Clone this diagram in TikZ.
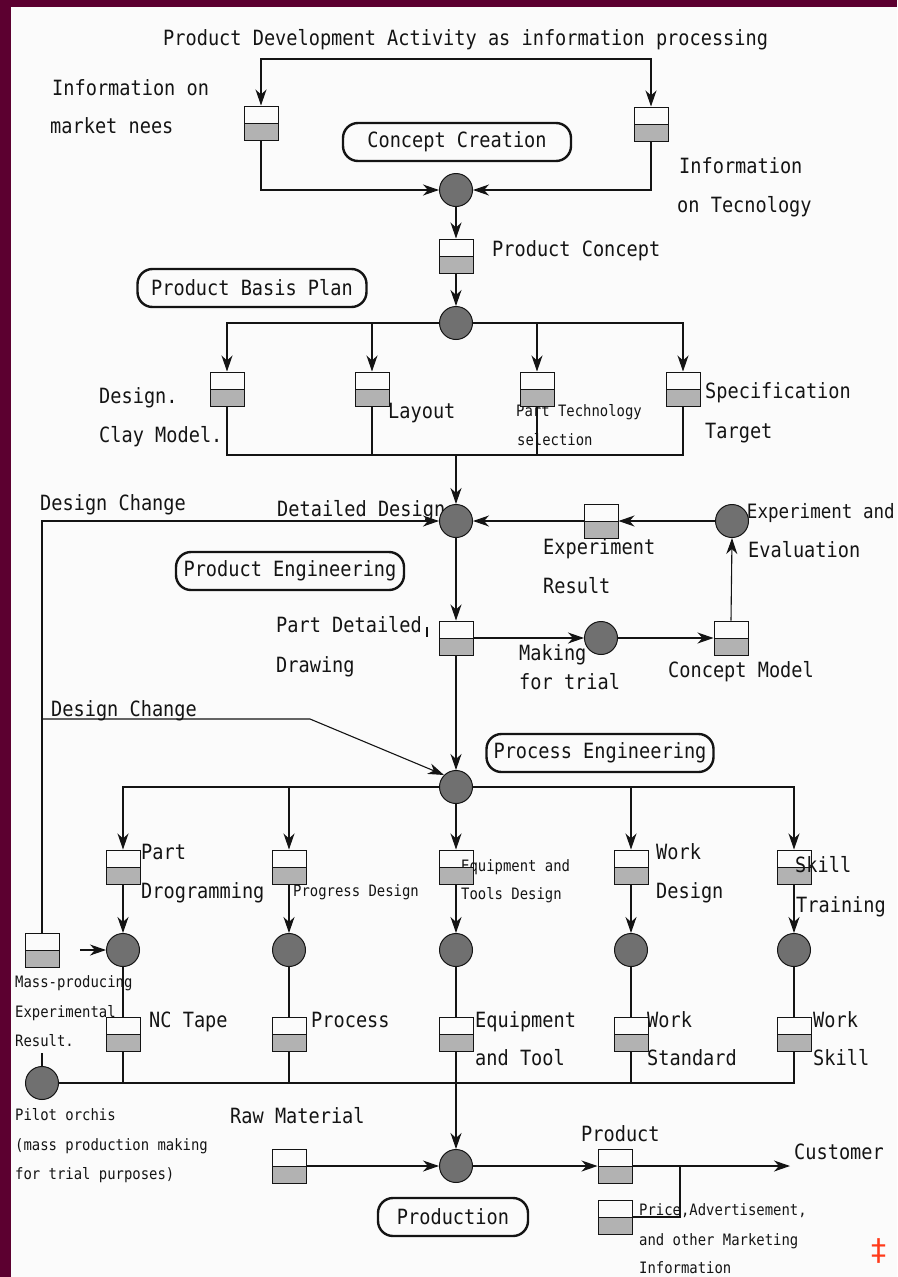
\documentclass[tikz,border=0pt]{standalone}
\usepackage{fontspec}
\setmainfont{DejaVu Sans Mono}[FakeStretch=0.886]
\newfontfamily\markfont{DejaVu Sans}
\usetikzlibrary{arrows.meta}

\definecolor{frame}{HTML}{5C0030}
\definecolor{paper}{HTML}{FBFBFB}
\definecolor{ink}{HTML}{141414}
\definecolor{boxgray}{HTML}{B2B2B2}
\definecolor{procgray}{HTML}{707070}
\definecolor{markred}{HTML}{FF3A1A}

\newcommand\lblfont{\fontsize{21}{24}\selectfont}
\newcommand\smlfont{\fontsize{15.7}{18}\selectfont}

\tikzset{
  lbl/.style={anchor=base west, inner sep=0pt, font=\lblfont, text=ink},
  sml/.style={anchor=base west, inner sep=0pt, font=\smlfont, text=ink},
  store/.style={draw=ink, line width=1pt, minimum width=34pt, minimum height=34pt,
    inner sep=0pt,
    path picture={
      \fill[boxgray] (path picture bounding box.west) rectangle (path picture bounding box.south east);
      \draw[ink, line width=1pt] (path picture bounding box.west) -- (path picture bounding box.east);
    }},
  proc/.style={circle, draw=ink, fill=procgray, line width=1pt, minimum size=33pt, inner sep=0pt},
  stage/.style={draw=ink, line width=2.4pt, rounded corners=15pt, minimum height=38pt,
    inner sep=0pt, font=\lblfont, text=ink},
  link/.style={draw=ink, line width=1.1pt},
  arr/.style={link, -{Stealth[length=16pt,width=11pt,inset=5pt]}},
  arr2/.style={link, {Stealth[length=16pt,width=11pt,inset=5pt]}-{Stealth[length=16pt,width=11pt,inset=5pt]}},
}

\begin{document}
\begin{tikzpicture}[x=1pt,y=-1pt]
% frame and paper
\fill[frame] (0,0) rectangle (897,1277);
\fill[paper] (11,7) rectangle (897,1277);
\useasboundingbox (0,0) rectangle (897,1277);

% ---------- text labels ----------
\node[lbl] (title) at (163,45) {Product Development Activity as information processing};
\node[lbl] (mktA) at (52,95) {Information on};
\node[lbl] (mktB) at (50,133) {market nees};
\node[lbl] (tecA) at (679,173) {Information};
\node[lbl] (tecB) at (677,212) {on Tecnology};
\node[lbl] (pcT) at (492,256) {Product Concept};
\node[lbl] (dcmA) at (99,403) {Design.};
\node[lbl] (dcmB) at (99,442) {Clay Model.};
\node[lbl] (layT) at (388,418) {Layout};
\node[lbl] (spcA) at (705,398) {Specification};
\node[lbl] (spcB) at (705,438) {Target};
\node[lbl] (dc1T) at (40,510) {Design Change};
\node[lbl] (ddT) at (277,516) {Detailed Design};
\node[lbl, anchor=base east, font=\fontsize{19.8}{24}\selectfont] (eeA) at (895,518) {Experiment and};
\node[lbl] (eeB) at (748,557) {Evaluation};
\node[lbl] (exrA) at (543,554) {Experiment};
\node[lbl] (exrB) at (543,593) {Result};
\node[lbl] (pddA) at (276,632) {Part Detailed};
\node[lbl] (pddB) at (276,672) {Drawing};
\node[lbl] (mftA) at (519,660) {Making};
\node[lbl] (mftB) at (519,689) {for trial};
\node[lbl] (cmdT) at (668,677) {Concept Model};
\node[lbl] (dc2T) at (51,716) {Design Change};
\node[lbl] (ppA) at (141,859) {Part};
\node[lbl] (ppB) at (141,898) {Drogramming};
\node[lbl] (wdA) at (656,859) {Work};
\node[lbl] (wdB) at (656,898) {Design};
\node[lbl] (nctT) at (149,1027) {NC Tape};
\node[lbl] (proT) at (311,1027) {Process};
\node[lbl] (eqtA) at (475,1027) {Equipment};
\node[lbl] (eqtB) at (475,1065) {and Tool};
\node[lbl] (wstA) at (647,1027) {Work};
\node[lbl] (wstB) at (647,1065) {Standard};
\node[lbl] (wskA) at (813,1027) {Work};
\node[lbl] (wskB) at (813,1065) {Skill};
\node[lbl] (rawT) at (230,1123) {Raw Material};
\node[lbl] (prdT) at (581,1141) {Product};
\node[lbl] (custT) at (794,1159) {Customer};

\node[sml] (ptcA) at (516,416) {Part Technology};
\node[sml] (ptcB) at (517,445) {selection};
\node[sml] (prgT) at (293,896) {Progress Design};
\node[sml] (etdA) at (461,871) {Equipment and};
\node[sml] (etdB) at (461,899) {Tools Design};
\node[sml] (mpeA) at (15,987) {Mass-producing};
\node[sml] (mpeB) at (15,1017) {Experimental};
\node[sml] (mpeC) at (15,1046) {Result.};
\node[sml] (pilA) at (15,1120) {Pilot orchis};
\node[sml] (pilB) at (15,1150) {(mass production making};
\node[sml] (pilC) at (15,1179) {for trial purposes)};
\node[sml] (priA) at (639,1215) {Price,Advertisement,};
\node[sml] (priB) at (639,1245) {and other Marketing};
\node[sml] (priC) at (639,1273) {Information};

% ---------- stage boxes ----------
\node[stage, minimum width=228pt] (sCC) at (457,142) {Concept Creation};
\node[stage, minimum width=229pt] (sPB) at (252,288) {Product Basis Plan};
\node[stage, minimum width=228pt] (sPE) at (290,571) {Product Engineering};
\node[stage, minimum width=227pt] (sPR) at (600,753) {Process Engineering};
\node[stage, minimum width=150pt] (sPD) at (453,1217) {Production};

% ---------- information stores ----------
\node[store] (mkt) at (261,123) {};
\node[store] (tec) at (651,124) {};
\node[store] (pc)  at (456,256) {};
\node[store] (dcm) at (227,389) {};
\node[store] (lay) at (372,389) {};
\node[store] (ptc) at (537,389) {};
\node[store] (spc) at (683,389) {};
\node[store] (exr) at (601,521) {};
\node[store] (pdd) at (456,638) {};
\node[store] (cmd) at (731,638) {};
\node[store] (pp)  at (123,867) {};
\node[store] (prg) at (289,867) {};
\node[store] (etd) at (456,867) {};
\node[store] (wd)  at (631,867) {};
\node[store] (skt) at (794,867) {};
\node[store] (mpe) at (42,950) {};
\node[store] (nct) at (123,1034) {};
\node[store] (pro) at (289,1034) {};
\node[store] (eqt) at (456,1034) {};
\node[store] (wst) at (631,1034) {};
\node[store] (wsk) at (794,1034) {};
\node[store] (raw) at (289,1166) {};
\node[store] (prd) at (615,1166) {};
\node[store] (pri) at (615,1217) {};

% labels drawn over the skill-training store
\node[lbl] (sktA) at (795,872) {Skill};
\node[lbl] (sktB) at (796,912) {Training};

% ---------- processes ----------
\node[proc] (cc)  at (456,190) {};
\node[proc] (pbp) at (456,323) {};
\node[proc] (dd)  at (456,521) {};
\node[proc] (ee)  at (732,521) {};
\node[proc] (mft) at (601,638) {};
\node[proc] (pe)  at (456,787) {};
\node[proc] (c1)  at (123,950) {};
\node[proc] (c2)  at (289,950) {};
\node[proc] (c3)  at (456,950) {};
\node[proc] (c4)  at (631,950) {};
\node[proc] (c5)  at (794,950) {};
\node[proc] (pil) at (42,1083) {};
\node[proc] (prod) at (456,1166) {};

% ---------- junction points ----------
\coordinate (topbar) at (0,59);
\coordinate (merge1) at (456,455);
\coordinate (dc2a) at (42,719);
\coordinate (dc2b) at (310,719);
\coordinate (bar) at (0,1083);
\coordinate (mpeTip) at (80,950);
\coordinate (cust) at (790,1166);
\coordinate (tap) at (680,1166);
\coordinate (tick) at (427,627);

% ---------- connectors ----------
\draw[arr2] (mkt.north) -- (mkt.north |- topbar) -- (tec.north |- topbar) -- (tec.north);
\draw[arr] (mkt.south) |- (cc.west);
\draw[arr] (tec.south) |- (cc.east);
\draw[arr] (cc.south) -- (pc.north);
\draw[arr] (pc.south) -- (pbp.north);
\draw[arr] (pbp.west) -| (dcm.north);
\draw[arr] (pbp.west) -| (lay.north);
\draw[arr] (pbp.east) -| (ptc.north);
\draw[arr] (pbp.east) -| (spc.north);
\draw[link] (dcm.south) |- (merge1) -| (spc.south);
\draw[link] (lay.south) -- (lay.south |- merge1);
\draw[link] (ptc.south) -- (ptc.south |- merge1);
\draw[arr] (merge1) -- (dd.north);

\draw[arr] (mpe.north) |- (dd.west);
\draw[arr] (ee.west) -- (exr.east);
\draw[arr] (exr.west) -- (dd.east);
\draw[arr] (dd.south) -- (pdd.north);
\draw[arr] (pdd.east) -- (mft.west);
\draw[arr] (mft.east) -- (cmd.west);
\draw[arr] (cmd.north) -- (ee.south);
\draw[arr] (pdd.south) -- (pe.north);
\draw[link] (tick) -- ++(0,10);
\draw[arr] (dc2a) -- (dc2b) -- (pe.north west);

\draw[arr] (pe.west) -| (pp.north);
\draw[arr] (pe.west) -| (prg.north);
\draw[arr] (pe.south) -- (etd.north);
\draw[arr] (pe.east) -| (wd.north);
\draw[arr] (pe.east) -| (skt.north);

\draw[arr] (pp.south) -- (c1.north);
\draw[arr] (prg.south) -- (c2.north);
\draw[arr] (etd.south) -- (c3.north);
\draw[arr] (wd.south) -- (c4.north);
\draw[arr] (skt.south) -- (c5.north);
\draw[arr] (mpeTip) -- (c1.west);

\draw[link] (c1.south) -- (nct.north);
\draw[link] (c2.south) -- (pro.north);
\draw[link] (c3.south) -- (eqt.north);
\draw[link] (c4.south) -- (wst.north);
\draw[link] (c5.south) -- (wsk.north);

\draw[link] (wsk.south) |- (pil.east);
\draw[link] (nct.south) -- (nct.south |- bar);
\draw[link] (pro.south) -- (pro.south |- bar);
\draw[link] (wst.south) -- (wst.south |- bar);
\draw[link] (pil.north) -- ++(0,-13);
\draw[arr] (eqt.south) -- (prod.north);

\draw[arr] (raw.east) -- (prod.west);
\draw[arr] (prod.east) -- (prd.west);
\draw[arr] (prd.east) -- (cust);
\draw[link] (pri.east) -| (tap);

% corner mark
\node[text=markred, font=\markfont\fontsize{30}{30}\selectfont, inner sep=0pt] (mark) at (879,1251) {‡};
\end{tikzpicture}
\end{document}
